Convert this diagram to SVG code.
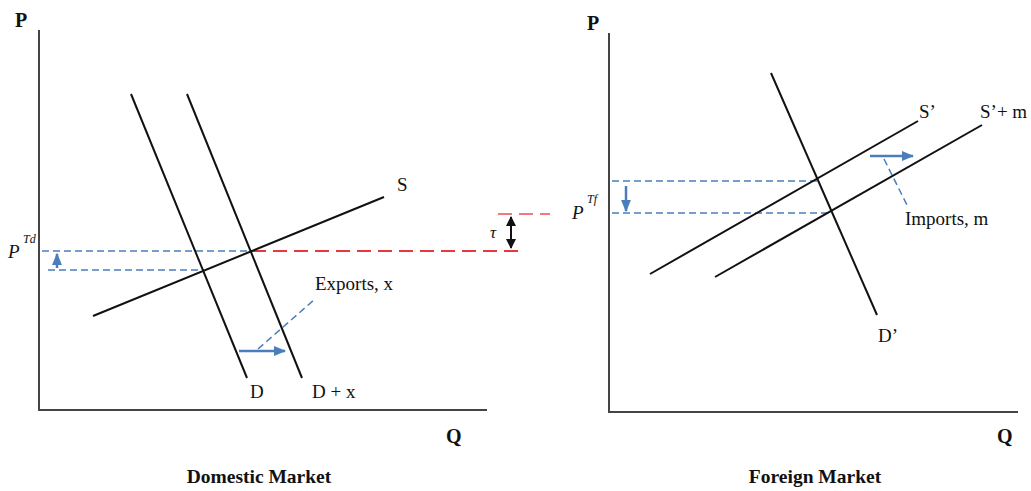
<svg xmlns="http://www.w3.org/2000/svg" width="1031" height="491" viewBox="0 0 1031 491">
<style>
.axis{stroke:#444;stroke-width:2;fill:none}
.curve{stroke:#111;stroke-width:2;fill:none}
.bdash{stroke:#4a7ebb;stroke-width:1.5;stroke-dasharray:7 4;fill:none}
.rdash{stroke:#e8383d;stroke-width:2;stroke-dasharray:14 7;fill:none}
.barrow{stroke:#4a7ebb;stroke-width:2.5;fill:none}
.lbl{font-family:"Liberation Serif",serif;font-size:19px;fill:#111}
.ax{font-family:"Liberation Serif",serif;font-size:20px;font-weight:bold;fill:#111}
.ttl{font-family:"Liberation Serif",serif;font-size:19.5px;font-weight:bold;fill:#111;text-anchor:middle}
.pi{font-family:"Liberation Serif",serif;font-style:italic;font-size:19px;fill:#111}
.sup{font-family:"Liberation Serif",serif;font-style:italic;font-size:12px;fill:#111}
</style>
<defs>
<marker id="ab" viewBox="0 0 10 10" refX="9" refY="5" markerWidth="5" markerHeight="5" orient="auto" markerUnits="strokeWidth"><path d="M0,1 L10,5 L0,9 z" fill="#4a7ebb"/></marker>
<marker id="ak" viewBox="0 0 10 10" refX="9" refY="5" markerWidth="5" markerHeight="5" orient="auto-start-reverse" markerUnits="strokeWidth"><path d="M0,0 L10,5 L0,10 z" fill="#111"/></marker>
</defs>
<rect width="1031" height="491" fill="#fff"/>
<g id="domestic-axes">
<path class="axis" d="M39,30 V410 H487"/>
<text class="ax" x="15" y="27">P</text>
<text class="ax" x="446" y="443">Q</text>
<text class="ttl" x="259" y="483">Domestic Market</text>
</g>
<g id="foreign-axes">
<path class="axis" d="M609,33 V412 H1018"/>
<text class="ax" x="587" y="30">P</text>
<text class="ax" x="997" y="443">Q</text>
<text class="ttl" x="815" y="483">Foreign Market</text>
</g>
<g id="connectors">
<line class="bdash" x1="42" y1="251" x2="252" y2="251"/>
<line class="bdash" x1="48" y1="270" x2="204" y2="270"/>
<line class="rdash" x1="252" y1="251" x2="524" y2="251"/>
<line class="rdash" x1="498" y1="214" x2="550" y2="214" style="stroke:#f07a7a"/>
<line x1="511" y1="217" x2="511" y2="248" stroke="#111" stroke-width="2" marker-start="url(#ak)" marker-end="url(#ak)"/>
<line class="barrow" x1="57" y1="268" x2="57" y2="254" marker-end="url(#ab)"/>
<line class="barrow" x1="239" y1="351" x2="285" y2="351" marker-end="url(#ab)"/>
<line class="bdash" x1="258" y1="349" x2="315" y2="299"/>
<line class="bdash" x1="612" y1="181" x2="818" y2="181"/>
<line class="bdash" x1="612" y1="213" x2="830" y2="213"/>
<line class="barrow" x1="626" y1="186" x2="626" y2="211" marker-end="url(#ab)"/>
<line class="barrow" x1="870" y1="156" x2="913" y2="156" marker-end="url(#ab)"/>
<line class="bdash" x1="884" y1="159" x2="908" y2="207"/>
</g>
<g id="D"><line class="curve" x1="131" y1="94" x2="247" y2="378"/><text class="lbl" x="250" y="398">D</text></g>
<g id="Dx"><line class="curve" x1="187" y1="94" x2="302" y2="378"/><text class="lbl" x="312" y="398">D + x</text></g>
<g id="S"><line class="curve" x1="93" y1="316" x2="384" y2="197"/><text class="lbl" x="397" y="191">S</text></g>
<g id="PTd"><text class="pi" x="8" y="258">P</text><text class="sup" x="23" y="243">Td</text></g>
<g id="tau"><text class="pi" x="490" y="238" style="font-size:17px">τ</text></g>
<g id="exports"><text class="lbl" x="315" y="290">Exports, x</text></g>
<g id="Dp"><line class="curve" x1="771" y1="73" x2="877" y2="315"/><text class="lbl" x="878" y="342">D’</text></g>
<g id="Sp"><line class="curve" x1="650" y1="274" x2="918" y2="121"/><text class="lbl" x="919" y="118">S’</text></g>
<g id="Spm"><line class="curve" x1="715" y1="277" x2="982" y2="125"/><text class="lbl" x="980" y="118">S’+ m</text></g>
<g id="PTf"><text class="pi" x="572" y="219">P</text><text class="sup" x="587" y="203">Tf</text></g>
<g id="imports"><text class="lbl" x="905" y="225">Imports, m</text></g>
</svg>
